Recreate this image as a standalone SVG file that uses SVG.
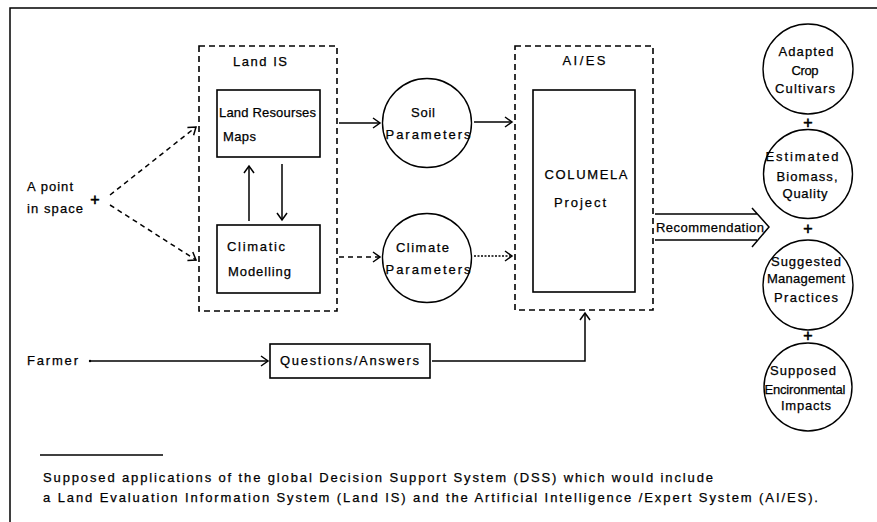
<svg xmlns="http://www.w3.org/2000/svg" width="877" height="522" viewBox="0 0 877 522">
<defs>
<style>
text{font-family:"Liberation Sans","DejaVu Sans",Arial,sans-serif;font-size:13px;fill:#000;stroke:#000;stroke-width:0.25;}
.c{text-anchor:middle;}
.p{font-size:16px;stroke-width:0.6;}
.b{fill:none;stroke:#000;stroke-width:1.6;}
.d{fill:none;stroke:#000;stroke-width:1.6;stroke-dasharray:6,4;}
.ln{fill:none;stroke:#000;stroke-width:1.5;}
.dl{fill:none;stroke:#000;stroke-width:1.5;stroke-dasharray:5,4;}
.fl{fill:none;stroke:#000;stroke-width:1.3;stroke-dasharray:2,1.5;}
.ci{fill:#fff;stroke:#000;stroke-width:1.4;}
</style>
<marker id="ah" markerUnits="userSpaceOnUse" markerWidth="14" markerHeight="14" refX="9" refY="6" orient="auto">
<path d="M2,1 L9,6 L2,11" fill="none" stroke="#000" stroke-width="1.5"/>
</marker>
</defs>
<rect width="877" height="522" fill="#fff"/>
<path d="M10,522 L10,8 L877,8" fill="none" stroke="#000" stroke-width="1.5"/>

<g id="land-is">
<rect class="d" x="199" y="46" width="138" height="265"/>
<text class="c" x="260" y="66" textLength="54" lengthAdjust="spacing">Land IS</text>
</g>
<g id="land-resources-maps">
<rect class="b" x="217" y="90" width="103" height="67"/>
<text x="219" y="117" textLength="97" lengthAdjust="spacing">Land Resourses</text>
<text x="223" y="141" textLength="33" lengthAdjust="spacing">Maps</text>
</g>
<g id="climatic-modelling">
<rect class="b" x="217" y="225" width="103" height="68"/>
<text x="227" y="251" textLength="58" lengthAdjust="spacing">Climatic</text>
<text x="228" y="276" textLength="63" lengthAdjust="spacing">Modelling</text>
</g>
<g id="a-point">
<text x="27" y="191" textLength="46" lengthAdjust="spacing">A point</text>
<text x="27" y="213" textLength="56" lengthAdjust="spacing">in space</text>
<text x="95" y="205" class="c p">+</text>
</g>
<g id="soil-parameters">
<circle class="ci" cx="427" cy="123" r="44.5"/>
<text x="411" y="117" textLength="24" lengthAdjust="spacing">Soil</text>
<text class="c" x="428" y="139" textLength="85" lengthAdjust="spacing">Parameters</text>
</g>
<g id="climate-parameters">
<circle class="ci" cx="427" cy="258" r="44.5"/>
<text x="396" y="252" textLength="53" lengthAdjust="spacing">Climate</text>
<text class="c" x="428" y="274" textLength="85" lengthAdjust="spacing">Parameters</text>
</g>
<g id="ai-es">
<rect class="d" x="515" y="46" width="138" height="264"/>
<text class="c" x="584" y="65" textLength="43" lengthAdjust="spacing">AI/ES</text>
</g>
<g id="columela">
<rect class="b" x="533" y="90" width="102" height="202"/>
<text class="c" x="586" y="179" textLength="83" lengthAdjust="spacing">COLUMELA</text>
<text class="c" x="580" y="207" textLength="52" lengthAdjust="spacing">Project</text>
</g>
<g id="recommendation">
<path class="ln" d="M655,214 L757,214 M655,240 L757,240 M752,208 L769,227 L752,247"/>
<text x="656" y="232" textLength="108" lengthAdjust="spacing">Recommendation</text>
</g>
<g id="adapted-crop-cultivars">
<circle class="ci" cx="808" cy="69" r="45"/>
<text class="c" x="806" y="56" textLength="55" lengthAdjust="spacing">Adapted</text>
<text class="c" x="805" y="75" textLength="27" lengthAdjust="spacing">Crop</text>
<text class="c" x="805" y="93" textLength="60" lengthAdjust="spacing">Cultivars</text>
</g>
<text class="c p" x="808" y="128">+</text>
<g id="estimated-biomass">
<circle class="ci" cx="808" cy="174" r="44.5"/>
<text class="c" x="802" y="161" textLength="73" lengthAdjust="spacing">Estimated</text>
<text class="c" x="807" y="181" textLength="61" lengthAdjust="spacing">Biomass,</text>
<text class="c" x="805" y="198" textLength="45" lengthAdjust="spacing">Quality</text>
</g>
<text class="c p" x="808" y="234">+</text>
<g id="suggested-management">
<circle class="ci" cx="808" cy="285" r="45"/>
<text class="c" x="806" y="266" textLength="70" lengthAdjust="spacing">Suggested</text>
<text class="c" x="806" y="283" textLength="78" lengthAdjust="spacing">Management</text>
<text class="c" x="806" y="302" textLength="64" lengthAdjust="spacing">Practices</text>
</g>
<text class="c p" x="808" y="341">+</text>
<g id="supposed-impacts">
<circle class="ci" cx="808" cy="387" r="44"/>
<text class="c" x="803" y="375" textLength="66" lengthAdjust="spacing">Supposed</text>
<text class="c" x="805" y="394" textLength="81" lengthAdjust="spacing">Encironmental</text>
<text class="c" x="806" y="410" textLength="50" lengthAdjust="spacing">Impacts</text>
</g>
<g id="farmer">
<text x="27" y="365" textLength="51" lengthAdjust="spacing">Farmer</text>
</g>
<g id="questions-answers">
<rect class="b" x="270" y="344" width="160" height="34"/>
<text x="280" y="365" textLength="139" lengthAdjust="spacing">Questions/Answers</text>
</g>

<g id="connectors">
<line class="dl" x1="110" y1="195" x2="196" y2="127" marker-end="url(#ah)"/>
<line class="dl" x1="110" y1="205" x2="196" y2="260" marker-end="url(#ah)"/>
<line class="ln" x1="249" y1="221" x2="249" y2="166" marker-end="url(#ah)"/>
<line class="ln" x1="282" y1="164" x2="282" y2="220" marker-end="url(#ah)"/>
<line class="ln" x1="339" y1="123" x2="380" y2="123" marker-end="url(#ah)"/>
<line class="dl" x1="339" y1="257" x2="380" y2="257" marker-end="url(#ah)"/>
<line class="ln" x1="474" y1="122" x2="512" y2="122" marker-end="url(#ah)"/>
<line class="fl" x1="474" y1="256" x2="512" y2="256" marker-end="url(#ah)"/>
<circle cx="90" cy="361" r="1.2" fill="#000"/>
<line class="ln" x1="90" y1="361" x2="268" y2="361" marker-end="url(#ah)"/>
<polyline class="ln" points="432,361 585,361 585,313" marker-end="url(#ah)"/>
</g>

<g id="footnote">
<line x1="40" y1="455" x2="163" y2="455" stroke="#000" stroke-width="1.5"/>
<text x="43" y="482" textLength="670" lengthAdjust="spacing">Supposed applications of the global  Decision Support System (DSS) which would include</text>
<text x="43" y="502" textLength="775" lengthAdjust="spacing">a Land Evaluation Information System (Land IS) and the Artificial Intelligence /Expert System (AI/ES).</text>
</g>
</svg>
